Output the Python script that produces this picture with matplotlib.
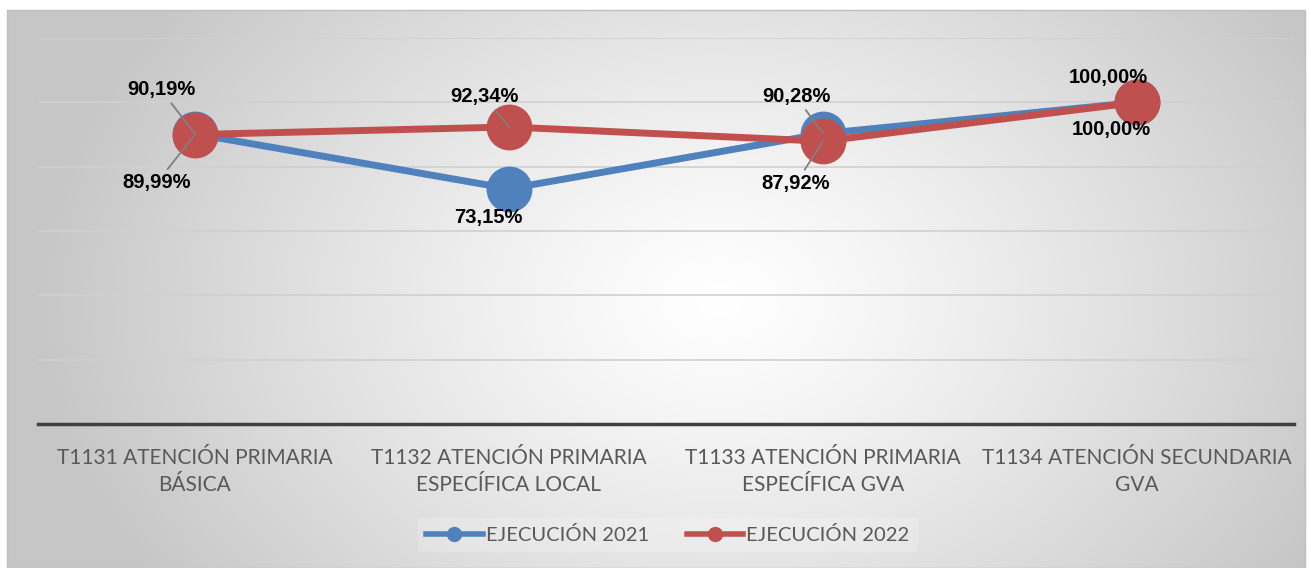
import numpy as np
import matplotlib
matplotlib.use("Agg")
import matplotlib.pyplot as plt
from matplotlib.lines import Line2D

categories = ["T1131 ATENCIÓN PRIMARIA\nBÁSICA",
              "T1132 ATENCIÓN PRIMARIA\nESPECÍFICA LOCAL",
              "T1133 ATENCIÓN PRIMARIA\nESPECÍFICA GVA",
              "T1134 ATENCIÓN SECUNDARIA\nGVA"]
series_names = ["EJECUCIÓN 2021", "EJECUCIÓN 2022"]
ejec_2021 = [0.9019, 0.7315, 0.9028, 1.0000]
ejec_2022 = [0.8999, 0.9234, 0.8792, 1.0000]

# label layout (pixel offsets from the point) and leader-line flags
off_2021 = [(-34, 44), (-21, -29), (-27, 37), (-29, 25)]
off_2022 = [(-38, -48), (-25, 30), (-27, -42), (-26, -27)]
lead_2021 = [True, False, True, False]
lead_2022 = [True, True, True, False]

W, H = 1310, 568
fig = plt.figure(figsize=(W / 100, H / 100), dpi=100)
fig.patch.set_facecolor("white")

tfont = ["Lato", "DejaVu Sans"]
bfont = ["Liberation Sans", "DejaVu Sans"]

# background radial gradient
bg = fig.add_axes([0, 0, 1, 1])
bg.set_xlim(0, W)
bg.set_ylim(H, 0)
bg.axis("off")
x0, x1, y0, y1 = 7, 1305, 10, 568
xx, yy = np.meshgrid(np.linspace(x0, x1, 600), np.linspace(y0, y1, 300))
cx, cy = 720, 300
r = np.sqrt(((xx - cx) / 680) ** 2 + ((yy - cy) / 500) ** 2)
r = np.clip(r, 0, 1)
val = 1.0 - 0.22 * r ** 1.2
img = np.dstack([val, val, val])
bg.imshow(img, extent=(x0, x1, y1, y0), aspect="auto", interpolation="bilinear", zorder=0)
bg.plot([x0, x1, x1, x0, x0], [y1, y1, y0, y0, y1], color="#BFBFBF", lw=1, zorder=1)

ax = fig.add_axes([38 / W, 1 - 424 / H, (1294 - 38) / W, (424 - 38) / H])
ax.patch.set_alpha(0)
x = np.arange(len(categories))
ax.set_xlim(-0.5, len(categories) - 0.5)
ax.set_ylim(0, 1.2)
ax.set_yticks(np.arange(0.2, 1.21, 0.2))
ax.yaxis.grid(True, color="#D0D0D0", lw=1.2)
ax.tick_params(axis="y", left=False, labelleft=False, length=0)
ax.tick_params(axis="x", bottom=False, pad=14)
for s in ["top", "right", "left"]:
    ax.spines[s].set_visible(False)
ax.spines["bottom"].set_color("#404040")
ax.spines["bottom"].set_linewidth(2.5)
ax.set_xticks(x)
ax.set_xticklabels(categories, fontsize=15, color="#595959", family=tfont, linespacing=1.4)
ax.set_axisbelow(True)

colors = ["#4F81BD", "#C0504D"]
ax.plot(x, ejec_2021, color=colors[0], lw=5, marker="o", ms=32, zorder=3, solid_capstyle="round")
ax.plot(x, ejec_2022, color=colors[1], lw=5, marker="o", ms=32, zorder=4, solid_capstyle="round")

def labels(vals, offs, leads):
    for xi, v, (dx, dy), ld in zip(x, vals, offs, leads):
        txt = f"{v * 100:.2f}%".replace(".", ",")
        ax.annotate(txt, (xi, v), xytext=(dx, dy), textcoords="offset pixels",
                    ha="center", va="center", fontsize=14.5, fontweight="bold",
                    color="black", family=bfont, zorder=6,
                    arrowprops=dict(arrowstyle="-", color="#7F7F7F", lw=1.3,
                                    shrinkA=1, shrinkB=0) if ld else None)

labels(ejec_2021, off_2021, lead_2021)
labels(ejec_2022, off_2022, lead_2022)

handles = [Line2D([], [], color=c, lw=4, marker="o", ms=10) for c in colors]
leg = fig.legend(handles, series_names, loc="center", bbox_to_anchor=(668 / W, 1 - 535 / H),
                 ncol=2, frameon=True, handlelength=2.8, handletextpad=0.15,
                 columnspacing=1.9, prop={"family": tfont, "size": 14.5})
leg.get_frame().set_facecolor("white")
leg.get_frame().set_alpha(0.2)
leg.get_frame().set_edgecolor("none")
for t in leg.get_texts():
    t.set_color("#595959")

fig.savefig("out.png", dpi=100)
